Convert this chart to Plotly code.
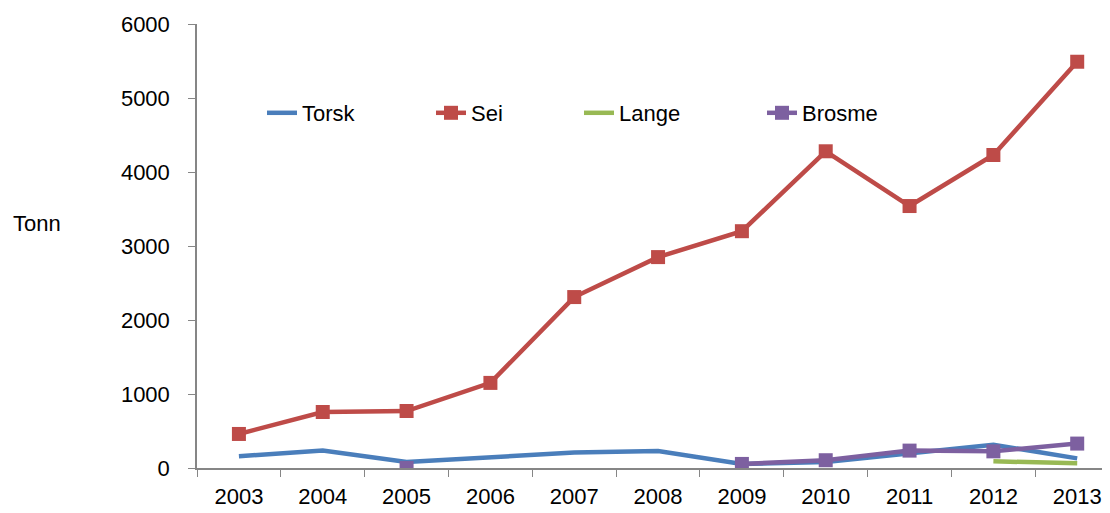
import plotly.graph_objects as go

years = ["2003", "2004", "2005", "2006", "2007", "2008", "2009", "2010", "2011", "2012", "2013"]
torsk = [160, 235, 80, 150, 210, 230, 55, 80, 200, 315, 130]
sei = [460, 757, 770, 1150, 2310, 2850, 3200, 4280, 3540, 4230, 5490]
lange = [None, None, None, None, None, None, None, None, None, 90, 65]
brosme = [None, None, 0, None, None, None, 55, 105, 235, 225, 330]

font = "Liberation Sans"
FS = 22
# plot area in page pixels (page body has 8px margin)
PL, PR, PT, PB = 197, 1110, 24, 468
PW, PH = PR - PL, PB - PT
CAT_W = 83.83  # pixel width of one category in the reference
x_hi = -0.5 + PW / CAT_W

def px_x(x):
    return (x - PL) / PW

def px_y(y):
    return (PB - y) / PH

fig = go.Figure()
fig.add_trace(go.Scatter(x=years, y=torsk, name="Torsk", mode="lines", legend="legend",
                         line=dict(color="#4A7EBB", width=4.5)))
fig.add_trace(go.Scatter(x=years, y=sei, name="Sei", mode="lines+markers", legend="legend2",
                         line=dict(color="#BE4B48", width=4.5),
                         marker=dict(symbol="square", size=14, color="#BE4B48")))
fig.add_trace(go.Scatter(x=years, y=lange, name="Lange", mode="lines", legend="legend3",
                         line=dict(color="#98B954", width=4.5)))
fig.add_trace(go.Scatter(x=years, y=brosme, name="Brosme", mode="lines+markers", legend="legend4",
                         line=dict(color="#7D60A0", width=4.5),
                         marker=dict(symbol="square", size=14, color="#7D60A0")))

def leg(text_start):
    return dict(x=px_x(text_start - 41), y=px_y(113), xanchor="left", yanchor="middle",
                font=dict(size=FS, family=font, color="black"), bgcolor="rgba(0,0,0,0)")

fig.update_layout(
    width=1102, height=505,
    margin=dict(l=PL - 8, r=0, t=PT - 8, b=505 - (PB - 8)),
    paper_bgcolor="white", plot_bgcolor="white",
    font=dict(family=font, size=FS, color="black"),
    showlegend=True,
    legend=leg(303), legend2=leg(472), legend3=leg(620), legend4=leg(803),
    xaxis=dict(type="category", range=[-0.5, x_hi], showgrid=False,
               showline=True, linecolor="#868686", linewidth=1.5,
               ticks="outside", tickson="boundaries", ticklen=7, tickcolor="#868686",
               ticklabelstandoff=8, tickfont=dict(size=FS)),
    yaxis=dict(range=[0, 6000], dtick=1000, showgrid=False, zeroline=False,
               showline=True, linecolor="#868686", linewidth=1.5,
               ticks="outside", ticklen=7, tickcolor="#868686",
               ticklabelstandoff=14, tickfont=dict(size=FS)),
    annotations=[dict(text="Tonn", x=px_x(37), y=px_y(224), xref="paper", yref="paper",
                      xanchor="center", yanchor="middle", showarrow=False,
                      font=dict(size=FS))],
)
fig.write_html("out.html")
